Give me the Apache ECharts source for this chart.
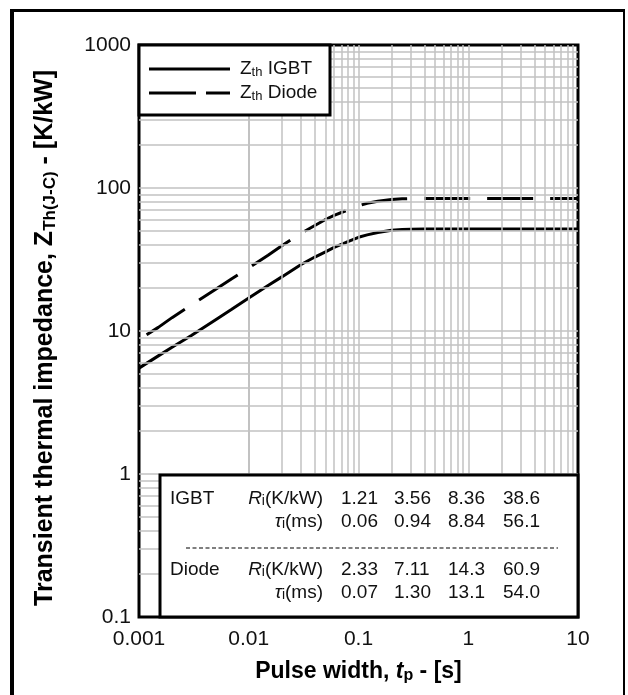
<!DOCTYPE html>
<html>
<head>
<meta charset="utf-8">
<title>Transient thermal impedance</title>
<script src="https://cdn.jsdelivr.net/npm/echarts@6/dist/echarts.min.js"></script>
<style>
  html, body { margin: 0; padding: 0; background: #fff; }
  #chart { width: 628px; height: 695px; }
</style>
</head>
<body>
<div id="chart"></div>
<script>
// Pulse width (s) and junction-to-case transient thermal impedance (K/kW)
const pulseWidth = [0.001, 0.0015, 0.002, 0.003, 0.005, 0.007, 0.01, 0.015, 0.02, 0.03, 0.04, 0.05, 0.06, 0.08,
                    0.1, 0.12, 0.15, 0.2, 0.25, 0.3, 0.4, 0.5, 1, 2, 5, 10];
const zthIGBT  = [5.5, 6.7, 7.7, 9.3, 12.0, 14.2, 17.0, 20.8, 23.9, 29.2, 32.9, 35.8, 38.4, 42.2,
                  45.2, 47.0, 48.9, 50.6, 51.2, 51.5, 51.7, 51.7, 51.7, 51.7, 51.7, 51.7];
const zthDiode = [8.7, 10.6, 12.4, 15.2, 19.6, 23.2, 27.6, 33.9, 39.5, 48.2, 54.7, 60.2, 64.3, 70.3,
                  75.0, 78.3, 80.8, 83.1, 84.0, 84.4, 84.6, 84.6, 84.6, 84.6, 84.6, 84.6];

// Foster network parameters shown in the table
const igbtR = ['1.21', '3.56', '8.36', '38.6'];
const igbtTau = ['0.06', '0.94', '8.84', '56.1'];
const diodeR = ['2.33', '7.11', '14.3', '60.9'];
const diodeTau = ['0.07', '1.30', '13.1', '54.0'];

// Axis tick labels (one per decade)
const xTickLabels = ['0.001', '0.01', '0.1', '1', '10'];
const yTickLabels = ['0.1', '1', '10', '100', '1000'];
const xRange = [0.001, 10];
const yRange = [0.1, 1000];
// Grid lines inside each decade
const gridMultipliers = [1, 2, 3, 4, 5, 6, 7, 8, 9];

const FONT = "'Liberation Sans', Arial, Helvetica, sans-serif";
const INK = '#111';
const DIODE_DASH = [46, 17];
const DIODE_DASH_OFFSET = 54;

function decadeLines(lo, hi) {
  const out = [];
  for (let d = lo; d < hi * 0.999; d *= 10) {
    gridMultipliers.forEach(m => {
      const v = +(d * m).toPrecision(6);
      if (v > lo * 1.0001 && v < hi * 0.9999) out.push(v);
    });
  }
  return out;
}
const gridData = decadeLines(xRange[0], xRange[1]).map(v => ({ xAxis: v }))
  .concat(decadeLines(yRange[0], yRange[1]).map(v => ({ yAxis: v })));

function pairs(ys) { return pulseWidth.map((t, i) => [t, ys[i]]); }

// ---- legend box ----
const legendRich = {
  z: { fontFamily: FONT, fontSize: 19, fill: INK, color: INK, lineHeight: 20 },
  s: { fontFamily: FONT, fontSize: 13, fill: INK, color: INK, verticalAlign: 'bottom', lineHeight: 9 },
  n: { fontFamily: FONT, fontSize: 19, fill: INK, color: INK, lineHeight: 20 }
};
const legendElems = [
  { type: 'rect', z: 100, shape: { x: 139, y: 45, width: 191, height: 70 },
    style: { fill: '#fff', stroke: '#000', lineWidth: 3 } },
  { type: 'line', z: 101, shape: { x1: 149, y1: 69, x2: 230, y2: 69 },
    style: { stroke: '#000', lineWidth: 3 } },
  { type: 'line', z: 101, shape: { x1: 149, y1: 93, x2: 230, y2: 93 },
    style: { stroke: '#000', lineWidth: 3, lineDash: [47, 10] } },
  { type: 'text', z: 101, x: 240, y: 69,
    style: { text: '{z|Z}{s|th}{n| IGBT}', rich: legendRich, align: 'left', verticalAlign: 'middle' } },
  { type: 'text', z: 101, x: 240, y: 93,
    style: { text: '{z|Z}{s|th}{n| Diode}', rich: legendRich, align: 'left', verticalAlign: 'middle' } }
];

// ---- parameter table (drawn as graphics over the plot) ----
const tbl = { x0: 160, y0: 475, x1: 578, y1: 617 };
const colX = [341, 394, 448, 503];
const rowY = [499, 522, 570, 593];
const cellStyle = { font: '19px ' + FONT, fill: INK, verticalAlign: 'middle' };
const labelRich = {
  it: { fontFamily: FONT, fontSize: 19, fontStyle: 'italic', fill: INK, color: INK },
  sub: { fontFamily: FONT, fontSize: 14, fill: INK, color: INK, verticalAlign: 'bottom', lineHeight: 9 },
  n: { fontFamily: FONT, fontSize: 19, fill: INK, color: INK }
};
const tableElems = [{
  type: 'rect', z: 100,
  shape: { x: tbl.x0, y: tbl.y0, width: tbl.x1 - tbl.x0, height: tbl.y1 - tbl.y0 },
  style: { fill: '#fff', stroke: '#000', lineWidth: 3 }
}, {
  type: 'line', z: 101,
  shape: { x1: 186, y1: 548, x2: 558, y2: 548 },
  style: { stroke: '#000', lineWidth: 1.2, lineDash: [4, 2.5] }
}];
const groups = [['IGBT', igbtR, igbtTau, rowY[0], rowY[1]], ['Diode', diodeR, diodeTau, rowY[2], rowY[3]]];
groups.forEach(([name, rs, taus, yR, yT]) => {
  tableElems.push({ type: 'text', z: 101, x: 170, y: yR, style: Object.assign({ text: name, align: 'left' }, cellStyle) });
  tableElems.push({ type: 'text', z: 101, x: 323, y: yR,
    style: Object.assign({ text: '{it|R}{sub|i}{n|(K/kW)}', align: 'right', rich: labelRich }, cellStyle) });
  tableElems.push({ type: 'text', z: 101, x: 323, y: yT,
    style: Object.assign({ text: '{it|τ}{sub|i}{n|(ms)}', align: 'right', rich: labelRich }, cellStyle) });
  rs.forEach((v, i) => tableElems.push({ type: 'text', z: 101, x: colX[i], y: yR,
    style: Object.assign({ text: v, align: 'left' }, cellStyle) }));
  taus.forEach((v, i) => tableElems.push({ type: 'text', z: 101, x: colX[i], y: yT,
    style: Object.assign({ text: v, align: 'left' }, cellStyle) }));
});

// ---- outer frame: heavy left and top rules, light right rule ----
const frameElems = [
  { type: 'line', z: 100, shape: { x1: 12, y1: 9, x2: 12, y2: 700 }, style: { stroke: '#000', lineWidth: 4 } },
  { type: 'line', z: 100, shape: { x1: 10, y1: 10.5, x2: 625, y2: 10.5 }, style: { stroke: '#000', lineWidth: 3 } },
  { type: 'line', z: 100, shape: { x1: 624, y1: 10, x2: 624, y2: 700 }, style: { stroke: '#000', lineWidth: 2 } }
];

const chart = echarts.init(document.getElementById('chart'), null, { renderer: 'canvas' });
chart.setOption({
  animation: false,
  backgroundColor: '#fff',
  textStyle: { fontFamily: FONT },
  grid: { left: 139, right: 50, top: 45, bottom: 78, show: true, borderColor: '#000', borderWidth: 3, backgroundColor: '#fff' },
  xAxis: {
    type: 'log', logBase: 10, min: xRange[0], max: xRange[1],
    name: '{b|Pulse width, }{bi|t}{bs|p}{b| - [s]}',
    nameLocation: 'middle', nameGap: 42,
    nameTextStyle: {
      rich: {
        b: { fontFamily: FONT, fontSize: 23, fontWeight: 'bold', color: '#000', lineHeight: 25 },
        bi: { fontFamily: FONT, fontSize: 23, fontWeight: 'bold', fontStyle: 'italic', color: '#000', lineHeight: 25 },
        bs: { fontFamily: FONT, fontSize: 16, fontWeight: 'bold', color: '#000', verticalAlign: 'bottom', lineHeight: 10 }
      }
    },
    axisLine: { show: false }, axisTick: { show: false }, splitLine: { show: false },
    axisLabel: {
      margin: 12, fontSize: 21, color: INK, fontFamily: FONT,
      formatter: v => xTickLabels[Math.round(Math.log10(v) - Math.log10(xRange[0]))]
    }
  },
  yAxis: {
    type: 'log', logBase: 10, min: yRange[0], max: yRange[1],
    name: '{b|Transient thermal impedance, Z}{bs|Th(J-C)}{b| - [K/kW]}',
    nameLocation: 'middle', nameGap: 80, nameRotate: 90,
    nameTextStyle: {
      padding: [0, 14, 0, 0],
      rich: {
        b: { fontFamily: FONT, fontSize: 25, fontWeight: 'bold', color: '#000', lineHeight: 27 },
        bs: { fontFamily: FONT, fontSize: 17, fontWeight: 'bold', color: '#000', verticalAlign: 'bottom', lineHeight: 11 }
      }
    },
    axisLine: { show: false }, axisTick: { show: false }, splitLine: { show: false },
    axisLabel: {
      margin: 8, fontSize: 21, color: INK, fontFamily: FONT,
      formatter: v => yTickLabels[Math.round(Math.log10(v) - Math.log10(yRange[0]))]
    }
  },
  series: [
    {
      name: 'grid', type: 'line', data: [], z: 1, silent: true,
      markLine: {
        silent: true, symbol: ['none', 'none'], label: { show: false }, animation: false,
        lineStyle: { color: '#c2c2c2', width: 1.5, type: 'solid' },
        emphasis: { disabled: true },
        data: gridData
      }
    },
    {
      name: 'IGBT', type: 'line', data: pairs(zthIGBT), z: 3,
      symbol: 'none', showSymbol: false, smooth: false,
      lineStyle: { color: '#000', width: 3, type: 'solid' }
    },
    {
      name: 'Diode', type: 'line', data: pairs(zthDiode), z: 3,
      symbol: 'none', showSymbol: false, smooth: false,
      lineStyle: { color: '#000', width: 3, type: DIODE_DASH, dashOffset: DIODE_DASH_OFFSET }
    }
  ],
  graphic: { elements: legendElems.concat(tableElems, frameElems) }
});
</script>
</body>
</html>
